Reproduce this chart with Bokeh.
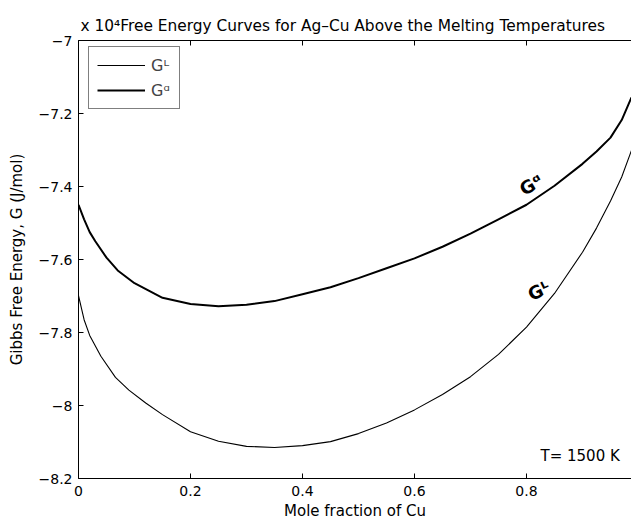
from bokeh.plotting import figure
from bokeh.models import (Range1d, LinearAxis, FixedTicker, Label, Legend, LegendItem)
from bokeh.embed import file_html
from bokeh.resources import INLINE

# Mole fraction of Cu and Gibbs free energies (units of 10^4 J/mol), T = 1500 K
x_alpha = [0, 0.01, 0.02, 0.03, 0.05, 0.07, 0.10, 0.15, 0.20, 0.25, 0.30, 0.35, 0.40,
           0.45, 0.50, 0.55, 0.60, 0.65, 0.70, 0.75, 0.80, 0.85, 0.90, 0.925, 0.95,
           0.97, 0.9875]
g_alpha = [-7.450, -7.490, -7.525, -7.550, -7.595, -7.630, -7.665, -7.705, -7.722,
           -7.728, -7.724, -7.714, -7.695, -7.676, -7.651, -7.624, -7.597, -7.565,
           -7.529, -7.490, -7.450, -7.398, -7.338, -7.304, -7.266, -7.218, -7.156]

x_liq = [0, 0.01, 0.02, 0.04, 0.066, 0.09, 0.12, 0.15, 0.20, 0.25, 0.30, 0.35, 0.40,
         0.45, 0.50, 0.55, 0.60, 0.65, 0.70, 0.75, 0.80, 0.85, 0.90, 0.925, 0.95,
         0.97, 0.9875]
g_liq = [-7.699, -7.765, -7.808, -7.865, -7.923, -7.958, -7.993, -8.025, -8.072,
         -8.098, -8.112, -8.115, -8.110, -8.099, -8.077, -8.048, -8.012, -7.970,
         -7.921, -7.860, -7.785, -7.693, -7.580, -7.514, -7.440, -7.374, -7.301]

x_ticks = [0, 0.2, 0.4, 0.6, 0.8]
y_ticks = [-8.2, -8.0, -7.8, -7.6, -7.4, -7.2, -7.0]
y_tick_labels = {"-8.2": "\u22128.2", "-8": "\u22128", "-7.8": "\u22127.8", "-7.6": "\u22127.6",
                 "-7.4": "\u22127.4", "-7.2": "\u22127.2", "-7": "\u22127"}

FONT = "DejaVu Sans"

p = figure(width=631, height=522, output_backend="svg", toolbar_location=None,
           x_range=Range1d(0, 0.9875), y_range=Range1d(-8.2, -7.0),
           x_axis_location=None, y_axis_location=None,
           min_border_left=78, min_border_right=0, min_border_top=40, min_border_bottom=44)
p.outline_line_color = None
p.grid.visible = False
p.background_fill_color = "white"
p.border_fill_color = "white"

# Title (with the axis exponent at its start)
p.title.text = "x 10\u2074Free Energy Curves for Ag\u2013Cu Above the Melting Temperatures"
p.title.align = "left"
p.title.offset = 2
p.title.standoff = 12
p.title.text_font = FONT
p.title.text_font_size = "15.4px"
p.title.text_font_style = "normal"
p.title.text_color = "black"

def style_axis(ax):
    ax.axis_line_color = "black"
    ax.axis_line_width = 1
    ax.major_tick_in = 5
    ax.major_tick_out = 0
    ax.minor_tick_line_color = None
    ax.major_tick_line_color = "black"
    ax.major_label_text_font = FONT
    ax.major_label_text_font_size = "14px"
    ax.major_label_text_color = "black"
    ax.axis_label_text_font = FONT
    ax.axis_label_text_font_size = "15px"
    ax.axis_label_text_font_style = "normal"
    ax.axis_label_text_color = "black"

xb = LinearAxis(ticker=FixedTicker(ticks=x_ticks), axis_label="Mole fraction of Cu")
style_axis(xb)
xb.major_label_standoff = 7
xb.axis_label_standoff = 3
p.add_layout(xb, "below")

# Top edge of the box: tick marks only, no labels
xt = LinearAxis(ticker=FixedTicker(ticks=[], minor_ticks=x_ticks))
style_axis(xt)
xt.major_tick_line_color = None
xt.minor_tick_line_color = "black"
xt.minor_tick_in = 5
xt.minor_tick_out = 0
xt.major_label_standoff = 0
p.add_layout(xt, "above")

yl = LinearAxis(ticker=FixedTicker(ticks=y_ticks), axis_label="Gibbs Free Energy, G (J/mol)")
style_axis(yl)
yl.major_label_standoff = 6
yl.axis_label_standoff = 10
yl.major_label_overrides = y_tick_labels
p.add_layout(yl, "left")

r_liq = p.line(x_liq, g_liq, line_color="black", line_width=1.1, line_join="round")
r_alpha = p.line(x_alpha, g_alpha, line_color="black", line_width=2, line_join="round")

legend = Legend(items=[LegendItem(label="G\u1d38", renderers=[r_liq]),
                       LegendItem(label="G\u1d45", renderers=[r_alpha])],
                location=(10, 369), orientation="vertical")
legend.border_line_color = "black"
legend.border_line_width = 1
legend.background_fill_color = "white"
legend.background_fill_alpha = 1
legend.padding = 8
legend.margin = 0
legend.spacing = 5
legend.glyph_width = 48
legend.glyph_height = 20
legend.label_height = 20
legend.label_standoff = 6
legend.label_text_font = FONT
legend.label_text_font_size = "16px"
p.add_layout(legend)

# Curve annotations and temperature
p.add_layout(Label(x=0.808, y=-7.395, text="G\u1d45", text_align="center", text_baseline="middle",
                   angle=0.55, text_font=FONT, text_font_size="18px", text_font_style="bold",
                   text_color="black"))
p.add_layout(Label(x=0.822, y=-7.685, text="G\u1d38", text_align="center", text_baseline="middle",
                   angle=0.45, text_font=FONT, text_font_size="18px", text_font_style="bold",
                   text_color="black"))
p.add_layout(Label(x=0.825, y=-8.137, text="T= 1500 K", text_align="left", text_baseline="alphabetic",
                   text_font=FONT, text_font_size="15px", text_color="black"))

open("out.html", "w").write(file_html(p, INLINE))
